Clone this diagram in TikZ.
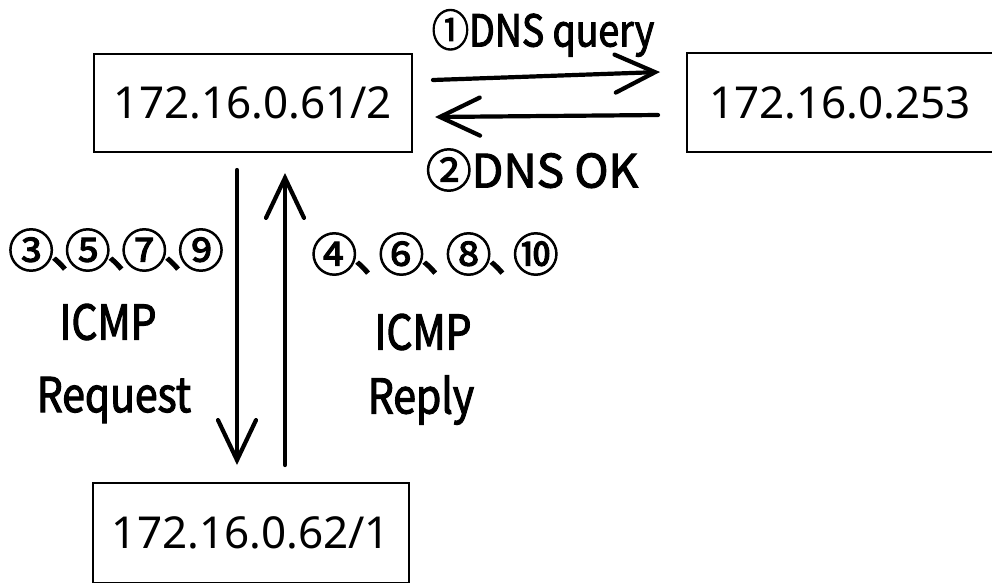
\documentclass[tikz,border=0pt]{standalone}
\usepackage{fontspec}
\setmainfont{Noto Sans}
\newfontfamily\hand[FakeBold=2.2]{Noto Sans CJK SC}
\newfontfamily\handnarrow[FakeBold=2.2, FakeStretch=0.85]{Noto Sans CJK SC}
\usetikzlibrary{arrows.meta}
% ideographic comma squeezed between circled numbers
\newcommand{\tightsep}[1]{\kern-0.08em\makebox[#1][l]{、}}
\tikzset{
  hostbox/.style={draw, line width=1.6pt, inner sep=0pt, font=\fontsize{44}{48}\selectfont},
  flow/.style={line width=4.2pt, line cap=round,
    -{Straight Barb[length=40pt, width=38pt, line width=4.2pt, line cap=round]}},
  note/.style={inner sep=0pt, align=center},
  steps/.style={note, font=\hand\fontsize{46}{48}\selectfont},
}
\begin{document}
\begin{tikzpicture}[x=1pt, y=-1pt]
\useasboundingbox (0,0) rectangle (992,582);
\begin{scope}
\clip (0,0) rectangle (992,582);
% hosts
\node[hostbox, minimum width=318pt, minimum height=98pt] (pc1) at (253,103) {172.16.0.61/2};
\node[hostbox, minimum width=306pt, minimum height=99pt] (dns) at (840,102.5) {172.16.0.253};
\node[hostbox, minimum width=316pt, minimum height=100pt] (pc2) at (251,533) {172.16.0.62/1};
\end{scope}
% connector end points
\coordinate (q1) at (433,80);
\coordinate (q2) at (660,72);
\coordinate (r1) at (658,115);
\coordinate (r2) at (435,117);
\coordinate (d1) at (237,170);
\coordinate (d2) at (237,465);
\coordinate (u1) at (285,465);
\coordinate (u2) at (285,173);
% DNS exchange
\draw[flow] (q1) -- (q2);
\draw[flow] (r1) -- (r2);
% ICMP exchange
\draw[flow] (d1) -- (d2);
\draw[flow] (u1) -- (u2);
% labels
\node[note, font=\handnarrow\fontsize{44}{46}\selectfont] (lq) at (543,33) {①DNS query};
\node[note, font=\hand\fontsize{46}{48}\selectfont] (lr) at (532,170) {②DNS OK};
\node[steps] (nreq) at (116,250)
  {③\tightsep{0.31em}⑤\tightsep{0.31em}⑦\tightsep{0.31em}⑨};
\node[note, font=\handnarrow\fontsize{48}{50}\selectfont] (icmp1) at (108,322) {ICMP};
\node[note, font=\handnarrow\fontsize{48}{50}\selectfont] (req) at (114,400) {Request};
\node[steps] (nrep) at (435,254)
  {④\tightsep{0.54em}⑥\tightsep{0.54em}⑧\tightsep{0.54em}⑩};
\node[note, font=\handnarrow\fontsize{48}{50}\selectfont] (icmp2) at (423,332) {ICMP};
\node[note, font=\handnarrow\fontsize{48}{50}\selectfont] (rep) at (421,400) {Reply};
\end{tikzpicture}
\end{document}
